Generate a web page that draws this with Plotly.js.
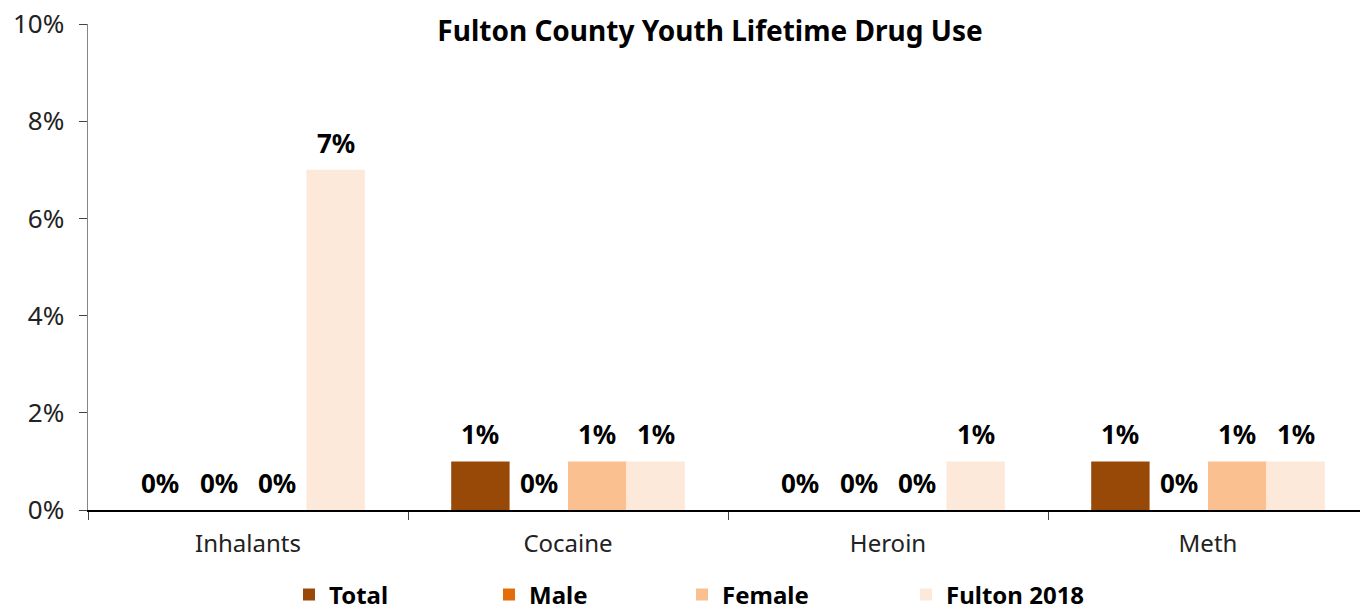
<!DOCTYPE html>
<html>
<head>
<meta charset="utf-8">
<script src="https://cdn.plot.ly/plotly-3.0.1.min.js"></script>
<style>
  html, body { margin: 0; padding: 0; background: #ffffff; }
  #chart { width: 1360px; height: 611px; }
</style>
</head>
<body>
<div id="chart"></div>
<script>
// Lifetime drug use among Fulton County youth, in percent
const categories = ["Inhalants", "Cocaine", "Heroin", "Meth"];
const seriesNames = ["Total", "Male", "Female", "Fulton 2018"];
const total = [0, 1, 0, 1];
const male = [0, 0, 0, 0];
const female = [0, 1, 0, 1];
const fulton2018 = [7, 1, 1, 1];
const seriesColors = ["#984807", "#E46C0A", "#FAC090", "#FDE9D9"];
const yTickValues = [0, 2, 4, 6, 8, 10];
const yTickLabels = ["0%", "2%", "4%", "6%", "8%", "10%"];

const FONT = "Noto Sans, Open Sans, sans-serif";
const seriesValues = [total, male, female, fulton2018];
const BARGAP = 0.27;
const nSeries = seriesValues.length;
const slot = (1 - BARGAP) / nSeries;

// each series gets its own legend box so the entries sit at fixed spots along the bottom
const legendLeft = [289, 489, 682, 906];
const legendIds = ["legend", "legend2", "legend3", "legend4"];

const traces = seriesValues.map((vals, i) => ({
  type: "bar",
  name: seriesNames[i],
  legend: legendIds[i],
  x: categories,
  y: vals,
  marker: { color: seriesColors[i], line: { width: 0 } },
  hoverinfo: "none"
}));

// value labels above each bar
const annotations = [];
seriesValues.forEach((vals, i) => {
  vals.forEach((v, c) => {
    annotations.push({
      x: c + (i - (nSeries - 1) / 2) * slot,
      y: v,
      xref: "x", yref: "y",
      text: "<b>" + v + "%</b>",
      showarrow: false,
      xanchor: "center", yanchor: "middle",
      yshift: 27,
      font: { family: FONT, size: 26, color: "#000000" }
    });
  });
});

const layout = {
  width: 1360,
  height: 611,
  margin: { l: 88, r: 0, t: 24, b: 101 },
  paper_bgcolor: "#ffffff",
  plot_bgcolor: "#ffffff",
  barmode: "group",
  bargap: BARGAP,
  bargroupgap: 0,
  title: {
    text: "<b>Fulton County Youth Lifetime Drug Use</b>",
    font: { family: FONT, size: 28, color: "#000000" },
    x: 0.489, xref: "paper", xanchor: "center",
    y: 1 - 31 / 611, yref: "container", yanchor: "middle"
  },
  xaxis: {
    type: "category",
    range: [-0.5, 3.475],
    showline: true,
    linecolor: "#000000",
    linewidth: 1.5,
    ticks: "outside",
    tickson: "boundaries",
    ticklen: 8,
    tickcolor: "#444444",
    ticklabelstandoff: 12,
    tickfont: { family: FONT, size: 24, color: "#222222" },
    showgrid: false,
    zeroline: false
  },
  yaxis: {
    range: [0, 10],
    tickvals: yTickValues,
    ticktext: yTickLabels,
    showline: true,
    linecolor: "#868686",
    linewidth: 1.5,
    ticks: "outside",
    ticklen: 8,
    tickcolor: "#444444",
    ticklabelstandoff: 9,
    tickfont: { family: FONT, size: 26, color: "#222222" },
    showgrid: false,
    zeroline: false
  },
  annotations: annotations,
  showlegend: true
};

legendIds.forEach((id, i) => {
  layout[id] = {
    orientation: "h",
    x: legendLeft[i] / 1360, xref: "container", xanchor: "left",
    y: 1 - 595 / 611, yref: "container", yanchor: "middle",
    bgcolor: "rgba(0,0,0,0)",
    font: { family: FONT, size: 24, color: "#000000", weight: 700 },
    itemclick: false,
    itemdoubleclick: false
  };
});

Plotly.newPlot("chart", traces, layout, { displayModeBar: false, staticPlot: true });
</script>
</body>
</html>
